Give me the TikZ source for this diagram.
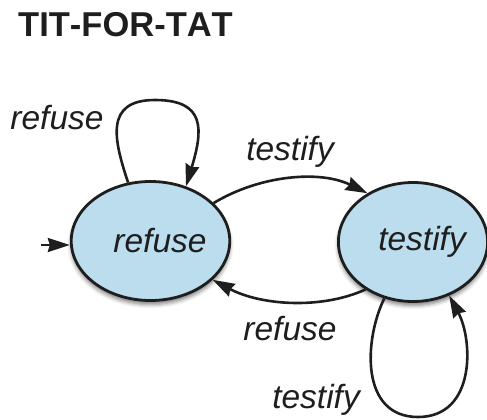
\documentclass[tikz,border=0pt]{standalone}
\usepackage{fontspec}
\setmainfont{Liberation Sans}
\usetikzlibrary{shapes.geometric,arrows.meta,shadows.blur}
\definecolor{statefill}{RGB}{187,221,237}
\definecolor{ink}{RGB}{30,30,30}
\begin{document}
\begin{tikzpicture}[x=1pt,y=-1pt,
  state/.style={ellipse,draw=ink,line width=2.8pt,fill=statefill,
    minimum width=140pt,minimum height=119pt,inner sep=0pt,
    font=\fontsize{33.5}{36}\selectfont\itshape,text=ink,
    blur shadow={shadow xshift=0pt,shadow yshift=-4pt,shadow blur radius=4pt,shadow opacity=50}},
  lbl/.style={font=\fontsize{33.5}{36}\selectfont\itshape,text=ink,inner sep=0pt},
  edge/.style={draw=ink,line width=2.6pt,-{Stealth[length=22pt,width=14pt,inset=2pt]}}]
\useasboundingbox (0,0) rectangle (487,420);
\node[anchor=west,inner sep=0pt,text=ink,font=\fontsize{34.5}{38}\selectfont\bfseries\addfontfeatures{Kerning=Off}] (title) at (18,25) {TIT-FOR-TAT};
\node[state] (R) at (150.5,241) {\hspace{19pt}refuse};
\node[state] (T) at (413,242) {\hspace{18pt}testify};
\coordinate (in) at (41,245);
\draw[edge] (in) -- (R.west |- in);
\draw[edge] (R.111) .. controls (114,140) and (104,100) .. (155,100) .. controls (206,100) and (203,130) .. (R.57);
\draw[edge] (R.31) .. controls (260,175) and (320,170) .. (T.133);
\draw[edge] (T.-135) .. controls (320,310) and (260,305) .. (R.-32);
\draw[edge] (T.-117) .. controls (364,340) and (360,417) .. (418,417) .. controls (476,417) and (473,340) .. (T.-56);
\node[lbl] (l1) at (57,118) {refuse};
\node[lbl] (l2) at (290,152) {testify};
\node[lbl] (l3) at (290,329) {refuse};
\node[lbl] (l4) at (316,400) {testify};
\end{tikzpicture}
\end{document}
